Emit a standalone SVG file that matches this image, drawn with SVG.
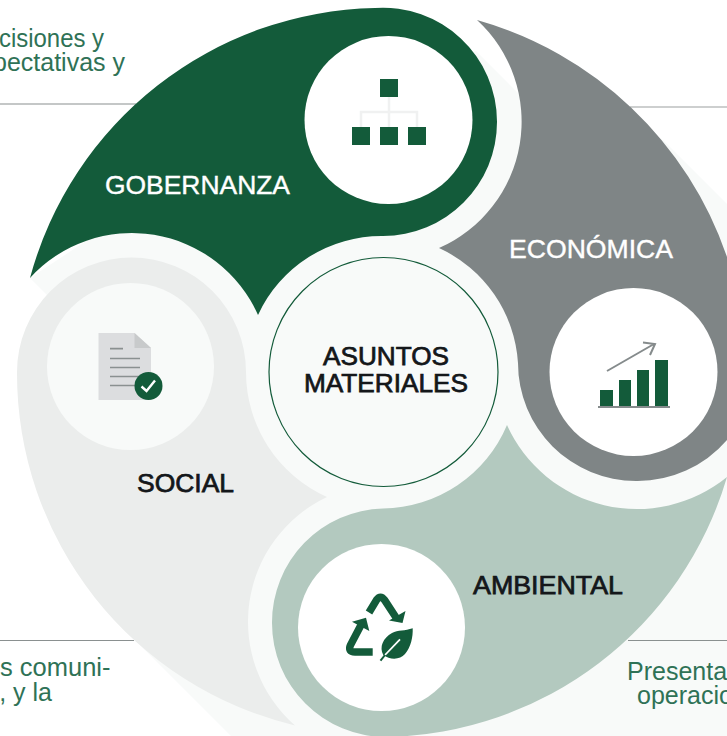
<svg xmlns="http://www.w3.org/2000/svg" width="727" height="736" viewBox="0 0 727 736">
<style>
.t{font-family:"Liberation Sans",Arial,sans-serif}
.d{font-size:25px;fill:#2f7256}
.l{font-size:26px}
.dk{fill:#14171a;stroke:#14171a;stroke-width:.75px}
.wh{fill:#fff;stroke:#fff;stroke-width:.4px}
.g{fill:#135b3a}
.i{fill:#fff}
.ln{stroke:#8a9090;stroke-width:1.2;fill:none}
.dl{stroke:#8a9090;stroke-width:1.7;fill:none}
</style>
<rect width="727" height="736" fill="#fff"/>
<path fill="#f8faf9" d="M30 278L300 100L476 51L518 93L663 140L727 204V736H231L135 640L100 400L47 295Z"/>
<g id="connectors">
<path class="ln" d="M0 104H136"/>
<path d="M630 107H727" stroke="#bcbfbf" stroke-width="1.5" fill="none"/>
<path class="ln" d="M0 640.500H134"/>
<path class="ln" d="M628 640.500H727"/>
</g>
<g id="social">
<path fill="#ebedec" d="M246 372A114 114 0 0 0 17 372A362 362 0 0 0 295 725.500A138 138 0 0 1 327 497A137 137 0 0 1 246 372Z"/>
<circle cx="130.500" cy="366.500" r="83.500" fill="#f8faf9"/>
<path fill="#dcdddf" d="M98.500 333H134.500L151 348V400H98.500Z"/>
<path fill="#c8cacb" d="M134.500 333L151 348H134.500Z"/>
<path class="dl" d="M110 348.700H123M110 358.500H140M110 367.500H140M110 376.500H140M110 385.500H140"/>
<circle cx="148.500" cy="386" r="14" class="g"/>
<path d="M141.500 386.500L146.500 391L155 380.500" fill="none" stroke="#fff" stroke-width="2.400"/>
<text class="t l dk" x="137" y="492" textLength="97" lengthAdjust="spacingAndGlyphs">SOCIAL</text>
</g>
<g id="ambiental">
<path fill="#b3c9bf" d="M507 425A136 136 0 0 1 383 508.500A114 114 0 0 0 272 623A114 114 0 0 0 386 737A362 362 0 0 0 727 477A142.500 142.500 0 0 1 507 425Z"/>
<circle cx="381.500" cy="627.500" r="83.500" class="i"/>
<path d="M369 612.500L376.500 600Q380.500 594.500 384.500 600L397 619M372.700 652H355Q347.500 652 350.500 645L361 625" fill="none" stroke="#135b3a" stroke-width="7.500"/>
<path class="g" d="M389 620.500L402.500 623L405.500 611ZM352 621.700L366 617.700L369.300 631Z"/>
<path class="g" d="M412.700 628.300C405 631 398 630 392 633C383 638 379 647 383.300 655C390 660 400 660 405 654C411 647 413 637 412.700 628.300Z"/>
<path d="M400 639.300L385 655" stroke="#fff" stroke-width="1.800" fill="none"/>
<path d="M385 655L380.500 660.700" stroke="#135b3a" stroke-width="2" fill="none"/>
<text class="t l dk" x="473" y="593.500" textLength="150" lengthAdjust="spacingAndGlyphs">AMBIENTAL</text>
</g>
<g id="economica">
<path fill="#7f8586" d="M477 20A370 370 0 0 1 727 257V440A118 118 0 0 1 636 481A118 118 0 0 1 518 363A136 136 0 0 0 439 248A138 138 0 0 0 477 20Z"/>
<circle cx="633.500" cy="372" r="84" class="i"/>
<path class="g" d="M600 390H613V406H600ZM619 380H631V406H619ZM637 370H649V406H637ZM655 360H668V406H655Z"/>
<path d="M598 407H670" stroke="#858b8c" stroke-width="2" fill="none"/>
<path d="M607 371L654 344M643 342.500L655 344L650 355" stroke="#858b8c" stroke-width="2" fill="none"/>
<text class="t l wh" x="509" y="258" textLength="164" lengthAdjust="spacingAndGlyphs">ECONÓMICA</text>
</g>
<g id="gobernanza">
<path class="g" d="M30 278A365 365 0 0 1 375 8A114 114 0 0 1 497 122A114 114 0 0 1 383 236A136 136 0 0 0 258 315A138 138 0 0 0 30 278Z"/>
<circle cx="388.500" cy="120" r="84" class="i"/>
<path d="M389 97V127M361 127V112H417V127" stroke="#f0f1f1" stroke-width="2.500" fill="none"/>
<path class="g" d="M380 79H398V97H380ZM352 127H370V145H352ZM380 127H398V145H380ZM408 127H426V145H408Z"/>
<text class="t l wh" x="105" y="193.500" textLength="185" lengthAdjust="spacingAndGlyphs">GOBERNANZA</text>
</g>
<g id="asuntos">
<circle cx="383.500" cy="372" r="114.500" fill="#f8faf9" stroke="#135b3a" stroke-width="1.200"/>
<text class="t l dk" x="323" y="365" textLength="126" lengthAdjust="spacingAndGlyphs">ASUNTOS</text>
<text class="t l dk" x="304" y="392" textLength="164" lengthAdjust="spacingAndGlyphs">MATERIALES</text>
</g>
<g id="notes">
<text class="t d" x="104" y="46.500" text-anchor="end" textLength="105" lengthAdjust="spacingAndGlyphs">cisiones y</text>
<text class="t d" x="125" y="70.500" text-anchor="end">pectativas y</text>
<text class="t d" x="110.500" y="676" text-anchor="end" textLength="110.500" lengthAdjust="spacingAndGlyphs">s comuni-</text>
<text class="t d" x="52" y="701" text-anchor="end">, y la</text>
<text class="t d" x="627" y="680">Presenta</text>
<text class="t d" x="637" y="704">operacio</text>
</g>
</svg>
